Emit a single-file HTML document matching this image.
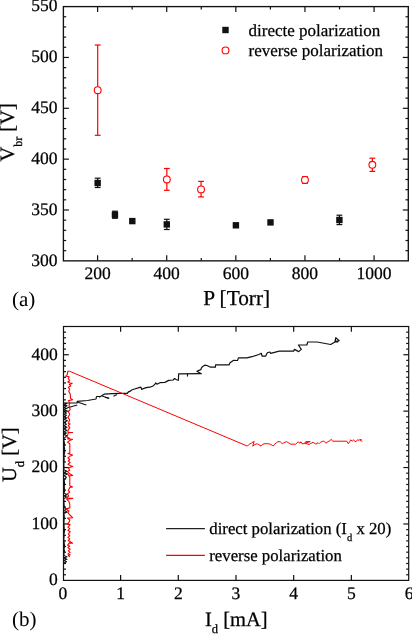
<!DOCTYPE html>
<html><head><meta charset="utf-8"><style>
html,body{margin:0;padding:0;background:#fff;}
svg{display:block;}
text{font-family:"Liberation Serif", serif;fill:#000;stroke:#000;stroke-width:0.25px;text-rendering:geometricPrecision;}
svg{will-change:transform;}
</style></head><body>
<svg width="412" height="634" viewBox="0 0 412 634">
<rect width="412" height="634" fill="#fff"/>
<line x1="97.60" y1="260.85" x2="97.60" y2="255.35" stroke="#111" stroke-width="1.2"/>
<line x1="97.60" y1="6.60" x2="97.60" y2="12.10" stroke="#111" stroke-width="1.2"/>
<line x1="132.16" y1="260.85" x2="132.16" y2="258.05" stroke="#111" stroke-width="1.2"/>
<line x1="132.16" y1="6.60" x2="132.16" y2="9.40" stroke="#111" stroke-width="1.2"/>
<line x1="166.72" y1="260.85" x2="166.72" y2="255.35" stroke="#111" stroke-width="1.2"/>
<line x1="166.72" y1="6.60" x2="166.72" y2="12.10" stroke="#111" stroke-width="1.2"/>
<line x1="201.28" y1="260.85" x2="201.28" y2="258.05" stroke="#111" stroke-width="1.2"/>
<line x1="201.28" y1="6.60" x2="201.28" y2="9.40" stroke="#111" stroke-width="1.2"/>
<line x1="235.84" y1="260.85" x2="235.84" y2="255.35" stroke="#111" stroke-width="1.2"/>
<line x1="235.84" y1="6.60" x2="235.84" y2="12.10" stroke="#111" stroke-width="1.2"/>
<line x1="270.40" y1="260.85" x2="270.40" y2="258.05" stroke="#111" stroke-width="1.2"/>
<line x1="270.40" y1="6.60" x2="270.40" y2="9.40" stroke="#111" stroke-width="1.2"/>
<line x1="304.96" y1="260.85" x2="304.96" y2="255.35" stroke="#111" stroke-width="1.2"/>
<line x1="304.96" y1="6.60" x2="304.96" y2="12.10" stroke="#111" stroke-width="1.2"/>
<line x1="339.52" y1="260.85" x2="339.52" y2="258.05" stroke="#111" stroke-width="1.2"/>
<line x1="339.52" y1="6.60" x2="339.52" y2="9.40" stroke="#111" stroke-width="1.2"/>
<line x1="374.08" y1="260.85" x2="374.08" y2="255.35" stroke="#111" stroke-width="1.2"/>
<line x1="374.08" y1="6.60" x2="374.08" y2="12.10" stroke="#111" stroke-width="1.2"/>
<line x1="63.40" y1="250.68" x2="66.20" y2="250.68" stroke="#111" stroke-width="1.2"/>
<line x1="408.30" y1="250.68" x2="405.50" y2="250.68" stroke="#111" stroke-width="1.2"/>
<line x1="63.40" y1="240.51" x2="66.20" y2="240.51" stroke="#111" stroke-width="1.2"/>
<line x1="408.30" y1="240.51" x2="405.50" y2="240.51" stroke="#111" stroke-width="1.2"/>
<line x1="63.40" y1="230.34" x2="66.20" y2="230.34" stroke="#111" stroke-width="1.2"/>
<line x1="408.30" y1="230.34" x2="405.50" y2="230.34" stroke="#111" stroke-width="1.2"/>
<line x1="63.40" y1="220.17" x2="66.20" y2="220.17" stroke="#111" stroke-width="1.2"/>
<line x1="408.30" y1="220.17" x2="405.50" y2="220.17" stroke="#111" stroke-width="1.2"/>
<line x1="63.40" y1="210.00" x2="68.90" y2="210.00" stroke="#111" stroke-width="1.2"/>
<line x1="408.30" y1="210.00" x2="402.80" y2="210.00" stroke="#111" stroke-width="1.2"/>
<line x1="63.40" y1="199.83" x2="66.20" y2="199.83" stroke="#111" stroke-width="1.2"/>
<line x1="408.30" y1="199.83" x2="405.50" y2="199.83" stroke="#111" stroke-width="1.2"/>
<line x1="63.40" y1="189.66" x2="66.20" y2="189.66" stroke="#111" stroke-width="1.2"/>
<line x1="408.30" y1="189.66" x2="405.50" y2="189.66" stroke="#111" stroke-width="1.2"/>
<line x1="63.40" y1="179.49" x2="66.20" y2="179.49" stroke="#111" stroke-width="1.2"/>
<line x1="408.30" y1="179.49" x2="405.50" y2="179.49" stroke="#111" stroke-width="1.2"/>
<line x1="63.40" y1="169.32" x2="66.20" y2="169.32" stroke="#111" stroke-width="1.2"/>
<line x1="408.30" y1="169.32" x2="405.50" y2="169.32" stroke="#111" stroke-width="1.2"/>
<line x1="63.40" y1="159.15" x2="68.90" y2="159.15" stroke="#111" stroke-width="1.2"/>
<line x1="408.30" y1="159.15" x2="402.80" y2="159.15" stroke="#111" stroke-width="1.2"/>
<line x1="63.40" y1="148.98" x2="66.20" y2="148.98" stroke="#111" stroke-width="1.2"/>
<line x1="408.30" y1="148.98" x2="405.50" y2="148.98" stroke="#111" stroke-width="1.2"/>
<line x1="63.40" y1="138.81" x2="66.20" y2="138.81" stroke="#111" stroke-width="1.2"/>
<line x1="408.30" y1="138.81" x2="405.50" y2="138.81" stroke="#111" stroke-width="1.2"/>
<line x1="63.40" y1="128.64" x2="66.20" y2="128.64" stroke="#111" stroke-width="1.2"/>
<line x1="408.30" y1="128.64" x2="405.50" y2="128.64" stroke="#111" stroke-width="1.2"/>
<line x1="63.40" y1="118.47" x2="66.20" y2="118.47" stroke="#111" stroke-width="1.2"/>
<line x1="408.30" y1="118.47" x2="405.50" y2="118.47" stroke="#111" stroke-width="1.2"/>
<line x1="63.40" y1="108.30" x2="68.90" y2="108.30" stroke="#111" stroke-width="1.2"/>
<line x1="408.30" y1="108.30" x2="402.80" y2="108.30" stroke="#111" stroke-width="1.2"/>
<line x1="63.40" y1="98.13" x2="66.20" y2="98.13" stroke="#111" stroke-width="1.2"/>
<line x1="408.30" y1="98.13" x2="405.50" y2="98.13" stroke="#111" stroke-width="1.2"/>
<line x1="63.40" y1="87.96" x2="66.20" y2="87.96" stroke="#111" stroke-width="1.2"/>
<line x1="408.30" y1="87.96" x2="405.50" y2="87.96" stroke="#111" stroke-width="1.2"/>
<line x1="63.40" y1="77.79" x2="66.20" y2="77.79" stroke="#111" stroke-width="1.2"/>
<line x1="408.30" y1="77.79" x2="405.50" y2="77.79" stroke="#111" stroke-width="1.2"/>
<line x1="63.40" y1="67.62" x2="66.20" y2="67.62" stroke="#111" stroke-width="1.2"/>
<line x1="408.30" y1="67.62" x2="405.50" y2="67.62" stroke="#111" stroke-width="1.2"/>
<line x1="63.40" y1="57.45" x2="68.90" y2="57.45" stroke="#111" stroke-width="1.2"/>
<line x1="408.30" y1="57.45" x2="402.80" y2="57.45" stroke="#111" stroke-width="1.2"/>
<line x1="63.40" y1="47.28" x2="66.20" y2="47.28" stroke="#111" stroke-width="1.2"/>
<line x1="408.30" y1="47.28" x2="405.50" y2="47.28" stroke="#111" stroke-width="1.2"/>
<line x1="63.40" y1="37.11" x2="66.20" y2="37.11" stroke="#111" stroke-width="1.2"/>
<line x1="408.30" y1="37.11" x2="405.50" y2="37.11" stroke="#111" stroke-width="1.2"/>
<line x1="63.40" y1="26.94" x2="66.20" y2="26.94" stroke="#111" stroke-width="1.2"/>
<line x1="408.30" y1="26.94" x2="405.50" y2="26.94" stroke="#111" stroke-width="1.2"/>
<line x1="63.40" y1="16.77" x2="66.20" y2="16.77" stroke="#111" stroke-width="1.2"/>
<line x1="408.30" y1="16.77" x2="405.50" y2="16.77" stroke="#111" stroke-width="1.2"/>
<rect x="63.40" y="6.60" width="344.90" height="254.25" fill="none" stroke="#111" stroke-width="1.35"/>
<text transform="translate(57.4,265.55)" text-anchor="end" font-size="17.5">300</text>
<text transform="translate(57.4,214.70)" text-anchor="end" font-size="17.5">350</text>
<text transform="translate(57.4,163.85)" text-anchor="end" font-size="17.5">400</text>
<text transform="translate(57.4,113.00)" text-anchor="end" font-size="17.5">450</text>
<text transform="translate(57.4,62.15)" text-anchor="end" font-size="17.5">500</text>
<text transform="translate(57.4,11.30)" text-anchor="end" font-size="17.5">550</text>
<text x="97.60" y="279.4" text-anchor="middle" font-size="17.5">200</text>
<text x="166.72" y="279.4" text-anchor="middle" font-size="17.5">400</text>
<text x="235.84" y="279.4" text-anchor="middle" font-size="17.5">600</text>
<text x="304.96" y="279.4" text-anchor="middle" font-size="17.5">800</text>
<text x="374.08" y="279.4" text-anchor="middle" font-size="17.5">1000</text>
<text x="236.7" y="305" text-anchor="middle" font-size="21.3">P [Torr]</text>
<g transform="translate(13.6,132.4) rotate(-90)"><text x="0" y="0" text-anchor="middle" font-size="20.5">V<tspan font-size="12" dy="8.5">br</tspan><tspan dy="-8.5"> [V]</tspan></text></g>
<text x="12" y="306.4" font-size="21" style="stroke-width:0">(a)</text>
<line x1="97.65" y1="178.20" x2="97.65" y2="187.50" stroke="#111" stroke-width="1.2"/>
<line x1="94.75" y1="178.20" x2="100.55" y2="178.20" stroke="#111" stroke-width="1.2"/>
<line x1="94.75" y1="187.50" x2="100.55" y2="187.50" stroke="#111" stroke-width="1.2"/>
<rect x="94.45" y="179.80" width="6.4" height="6.4" fill="#111"/>
<line x1="114.95" y1="211.20" x2="114.95" y2="218.30" stroke="#111" stroke-width="1.2"/>
<line x1="112.05" y1="211.20" x2="117.85" y2="211.20" stroke="#111" stroke-width="1.2"/>
<line x1="112.05" y1="218.30" x2="117.85" y2="218.30" stroke="#111" stroke-width="1.2"/>
<rect x="111.75" y="211.55" width="6.4" height="6.4" fill="#111"/>
<rect x="129.10" y="217.90" width="6.4" height="6.4" fill="#111"/>
<line x1="166.80" y1="219.30" x2="166.80" y2="229.50" stroke="#111" stroke-width="1.2"/>
<line x1="163.90" y1="219.30" x2="169.70" y2="219.30" stroke="#111" stroke-width="1.2"/>
<line x1="163.90" y1="229.50" x2="169.70" y2="229.50" stroke="#111" stroke-width="1.2"/>
<rect x="163.60" y="221.20" width="6.4" height="6.4" fill="#111"/>
<rect x="232.70" y="222.10" width="6.4" height="6.4" fill="#111"/>
<rect x="267.30" y="219.20" width="6.4" height="6.4" fill="#111"/>
<line x1="339.40" y1="215.20" x2="339.40" y2="224.60" stroke="#111" stroke-width="1.2"/>
<line x1="336.50" y1="215.20" x2="342.30" y2="215.20" stroke="#111" stroke-width="1.2"/>
<line x1="336.50" y1="224.60" x2="342.30" y2="224.60" stroke="#111" stroke-width="1.2"/>
<rect x="336.20" y="216.80" width="6.4" height="6.4" fill="#111"/>
<line x1="97.70" y1="45.00" x2="97.70" y2="135.30" stroke="#ff0000" stroke-width="1.2"/>
<line x1="94.80" y1="45.00" x2="100.60" y2="45.00" stroke="#ff0000" stroke-width="1.2"/>
<line x1="94.80" y1="135.30" x2="100.60" y2="135.30" stroke="#ff0000" stroke-width="1.2"/>
<circle cx="97.70" cy="90.20" r="3.4" fill="#fff" stroke="#ff0000" stroke-width="1.1"/>
<line x1="166.85" y1="168.50" x2="166.85" y2="190.30" stroke="#ff0000" stroke-width="1.2"/>
<line x1="163.95" y1="168.50" x2="169.75" y2="168.50" stroke="#ff0000" stroke-width="1.2"/>
<line x1="163.95" y1="190.30" x2="169.75" y2="190.30" stroke="#ff0000" stroke-width="1.2"/>
<circle cx="166.85" cy="179.45" r="3.4" fill="#fff" stroke="#ff0000" stroke-width="1.1"/>
<line x1="201.05" y1="181.40" x2="201.05" y2="196.90" stroke="#ff0000" stroke-width="1.2"/>
<line x1="198.15" y1="181.40" x2="203.95" y2="181.40" stroke="#ff0000" stroke-width="1.2"/>
<line x1="198.15" y1="196.90" x2="203.95" y2="196.90" stroke="#ff0000" stroke-width="1.2"/>
<circle cx="201.05" cy="189.40" r="3.4" fill="#fff" stroke="#ff0000" stroke-width="1.1"/>
<line x1="304.95" y1="176.70" x2="304.95" y2="183.30" stroke="#ff0000" stroke-width="1.2"/>
<line x1="302.05" y1="176.70" x2="307.85" y2="176.70" stroke="#ff0000" stroke-width="1.2"/>
<line x1="302.05" y1="183.30" x2="307.85" y2="183.30" stroke="#ff0000" stroke-width="1.2"/>
<circle cx="304.95" cy="179.95" r="3.4" fill="#fff" stroke="#ff0000" stroke-width="1.1"/>
<line x1="372.35" y1="158.20" x2="372.35" y2="171.40" stroke="#ff0000" stroke-width="1.2"/>
<line x1="369.45" y1="158.20" x2="375.25" y2="158.20" stroke="#ff0000" stroke-width="1.2"/>
<line x1="369.45" y1="171.40" x2="375.25" y2="171.40" stroke="#ff0000" stroke-width="1.2"/>
<circle cx="372.35" cy="164.80" r="3.4" fill="#fff" stroke="#ff0000" stroke-width="1.1"/>
<rect x="222.30" y="26.80" width="6.4" height="6.4" fill="#111"/>
<circle cx="225.50" cy="50.40" r="3.4" fill="#fff" stroke="#ff0000" stroke-width="1.1"/>
<text x="248.5" y="35.6" font-size="17">directe polarization</text>
<text x="248.5" y="55.8" font-size="17">reverse polarization</text>
<line x1="120.60" y1="580.40" x2="120.60" y2="575.10" stroke="#111" stroke-width="1.2"/>
<line x1="120.60" y1="326.50" x2="120.60" y2="331.80" stroke="#111" stroke-width="1.2"/>
<line x1="178.29" y1="580.40" x2="178.29" y2="575.10" stroke="#111" stroke-width="1.2"/>
<line x1="178.29" y1="326.50" x2="178.29" y2="331.80" stroke="#111" stroke-width="1.2"/>
<line x1="235.98" y1="580.40" x2="235.98" y2="575.10" stroke="#111" stroke-width="1.2"/>
<line x1="235.98" y1="326.50" x2="235.98" y2="331.80" stroke="#111" stroke-width="1.2"/>
<line x1="293.67" y1="580.40" x2="293.67" y2="575.10" stroke="#111" stroke-width="1.2"/>
<line x1="293.67" y1="326.50" x2="293.67" y2="331.80" stroke="#111" stroke-width="1.2"/>
<line x1="351.36" y1="580.40" x2="351.36" y2="575.10" stroke="#111" stroke-width="1.2"/>
<line x1="351.36" y1="326.50" x2="351.36" y2="331.80" stroke="#111" stroke-width="1.2"/>
<line x1="63.50" y1="574.76" x2="66.00" y2="574.76" stroke="#111" stroke-width="1.2"/>
<line x1="408.70" y1="574.76" x2="406.20" y2="574.76" stroke="#111" stroke-width="1.2"/>
<line x1="63.50" y1="569.12" x2="66.00" y2="569.12" stroke="#111" stroke-width="1.2"/>
<line x1="408.70" y1="569.12" x2="406.20" y2="569.12" stroke="#111" stroke-width="1.2"/>
<line x1="63.50" y1="563.47" x2="66.00" y2="563.47" stroke="#111" stroke-width="1.2"/>
<line x1="408.70" y1="563.47" x2="406.20" y2="563.47" stroke="#111" stroke-width="1.2"/>
<line x1="63.50" y1="557.83" x2="66.00" y2="557.83" stroke="#111" stroke-width="1.2"/>
<line x1="408.70" y1="557.83" x2="406.20" y2="557.83" stroke="#111" stroke-width="1.2"/>
<line x1="63.50" y1="552.19" x2="66.00" y2="552.19" stroke="#111" stroke-width="1.2"/>
<line x1="408.70" y1="552.19" x2="406.20" y2="552.19" stroke="#111" stroke-width="1.2"/>
<line x1="63.50" y1="546.55" x2="66.00" y2="546.55" stroke="#111" stroke-width="1.2"/>
<line x1="408.70" y1="546.55" x2="406.20" y2="546.55" stroke="#111" stroke-width="1.2"/>
<line x1="63.50" y1="540.91" x2="66.00" y2="540.91" stroke="#111" stroke-width="1.2"/>
<line x1="408.70" y1="540.91" x2="406.20" y2="540.91" stroke="#111" stroke-width="1.2"/>
<line x1="63.50" y1="535.26" x2="66.00" y2="535.26" stroke="#111" stroke-width="1.2"/>
<line x1="408.70" y1="535.26" x2="406.20" y2="535.26" stroke="#111" stroke-width="1.2"/>
<line x1="63.50" y1="529.62" x2="66.00" y2="529.62" stroke="#111" stroke-width="1.2"/>
<line x1="408.70" y1="529.62" x2="406.20" y2="529.62" stroke="#111" stroke-width="1.2"/>
<line x1="63.50" y1="523.98" x2="68.80" y2="523.98" stroke="#111" stroke-width="1.2"/>
<line x1="408.70" y1="523.98" x2="403.40" y2="523.98" stroke="#111" stroke-width="1.2"/>
<line x1="63.50" y1="518.34" x2="66.00" y2="518.34" stroke="#111" stroke-width="1.2"/>
<line x1="408.70" y1="518.34" x2="406.20" y2="518.34" stroke="#111" stroke-width="1.2"/>
<line x1="63.50" y1="512.70" x2="66.00" y2="512.70" stroke="#111" stroke-width="1.2"/>
<line x1="408.70" y1="512.70" x2="406.20" y2="512.70" stroke="#111" stroke-width="1.2"/>
<line x1="63.50" y1="507.05" x2="66.00" y2="507.05" stroke="#111" stroke-width="1.2"/>
<line x1="408.70" y1="507.05" x2="406.20" y2="507.05" stroke="#111" stroke-width="1.2"/>
<line x1="63.50" y1="501.41" x2="66.00" y2="501.41" stroke="#111" stroke-width="1.2"/>
<line x1="408.70" y1="501.41" x2="406.20" y2="501.41" stroke="#111" stroke-width="1.2"/>
<line x1="63.50" y1="495.77" x2="66.00" y2="495.77" stroke="#111" stroke-width="1.2"/>
<line x1="408.70" y1="495.77" x2="406.20" y2="495.77" stroke="#111" stroke-width="1.2"/>
<line x1="63.50" y1="490.13" x2="66.00" y2="490.13" stroke="#111" stroke-width="1.2"/>
<line x1="408.70" y1="490.13" x2="406.20" y2="490.13" stroke="#111" stroke-width="1.2"/>
<line x1="63.50" y1="484.49" x2="66.00" y2="484.49" stroke="#111" stroke-width="1.2"/>
<line x1="408.70" y1="484.49" x2="406.20" y2="484.49" stroke="#111" stroke-width="1.2"/>
<line x1="63.50" y1="478.84" x2="66.00" y2="478.84" stroke="#111" stroke-width="1.2"/>
<line x1="408.70" y1="478.84" x2="406.20" y2="478.84" stroke="#111" stroke-width="1.2"/>
<line x1="63.50" y1="473.20" x2="66.00" y2="473.20" stroke="#111" stroke-width="1.2"/>
<line x1="408.70" y1="473.20" x2="406.20" y2="473.20" stroke="#111" stroke-width="1.2"/>
<line x1="63.50" y1="467.56" x2="68.80" y2="467.56" stroke="#111" stroke-width="1.2"/>
<line x1="408.70" y1="467.56" x2="403.40" y2="467.56" stroke="#111" stroke-width="1.2"/>
<line x1="63.50" y1="461.92" x2="66.00" y2="461.92" stroke="#111" stroke-width="1.2"/>
<line x1="408.70" y1="461.92" x2="406.20" y2="461.92" stroke="#111" stroke-width="1.2"/>
<line x1="63.50" y1="456.28" x2="66.00" y2="456.28" stroke="#111" stroke-width="1.2"/>
<line x1="408.70" y1="456.28" x2="406.20" y2="456.28" stroke="#111" stroke-width="1.2"/>
<line x1="63.50" y1="450.63" x2="66.00" y2="450.63" stroke="#111" stroke-width="1.2"/>
<line x1="408.70" y1="450.63" x2="406.20" y2="450.63" stroke="#111" stroke-width="1.2"/>
<line x1="63.50" y1="444.99" x2="66.00" y2="444.99" stroke="#111" stroke-width="1.2"/>
<line x1="408.70" y1="444.99" x2="406.20" y2="444.99" stroke="#111" stroke-width="1.2"/>
<line x1="63.50" y1="439.35" x2="66.00" y2="439.35" stroke="#111" stroke-width="1.2"/>
<line x1="408.70" y1="439.35" x2="406.20" y2="439.35" stroke="#111" stroke-width="1.2"/>
<line x1="63.50" y1="433.71" x2="66.00" y2="433.71" stroke="#111" stroke-width="1.2"/>
<line x1="408.70" y1="433.71" x2="406.20" y2="433.71" stroke="#111" stroke-width="1.2"/>
<line x1="63.50" y1="428.07" x2="66.00" y2="428.07" stroke="#111" stroke-width="1.2"/>
<line x1="408.70" y1="428.07" x2="406.20" y2="428.07" stroke="#111" stroke-width="1.2"/>
<line x1="63.50" y1="422.42" x2="66.00" y2="422.42" stroke="#111" stroke-width="1.2"/>
<line x1="408.70" y1="422.42" x2="406.20" y2="422.42" stroke="#111" stroke-width="1.2"/>
<line x1="63.50" y1="416.78" x2="66.00" y2="416.78" stroke="#111" stroke-width="1.2"/>
<line x1="408.70" y1="416.78" x2="406.20" y2="416.78" stroke="#111" stroke-width="1.2"/>
<line x1="63.50" y1="411.14" x2="68.80" y2="411.14" stroke="#111" stroke-width="1.2"/>
<line x1="408.70" y1="411.14" x2="403.40" y2="411.14" stroke="#111" stroke-width="1.2"/>
<line x1="63.50" y1="405.50" x2="66.00" y2="405.50" stroke="#111" stroke-width="1.2"/>
<line x1="408.70" y1="405.50" x2="406.20" y2="405.50" stroke="#111" stroke-width="1.2"/>
<line x1="63.50" y1="399.86" x2="66.00" y2="399.86" stroke="#111" stroke-width="1.2"/>
<line x1="408.70" y1="399.86" x2="406.20" y2="399.86" stroke="#111" stroke-width="1.2"/>
<line x1="63.50" y1="394.21" x2="66.00" y2="394.21" stroke="#111" stroke-width="1.2"/>
<line x1="408.70" y1="394.21" x2="406.20" y2="394.21" stroke="#111" stroke-width="1.2"/>
<line x1="63.50" y1="388.57" x2="66.00" y2="388.57" stroke="#111" stroke-width="1.2"/>
<line x1="408.70" y1="388.57" x2="406.20" y2="388.57" stroke="#111" stroke-width="1.2"/>
<line x1="63.50" y1="382.93" x2="66.00" y2="382.93" stroke="#111" stroke-width="1.2"/>
<line x1="408.70" y1="382.93" x2="406.20" y2="382.93" stroke="#111" stroke-width="1.2"/>
<line x1="63.50" y1="377.29" x2="66.00" y2="377.29" stroke="#111" stroke-width="1.2"/>
<line x1="408.70" y1="377.29" x2="406.20" y2="377.29" stroke="#111" stroke-width="1.2"/>
<line x1="63.50" y1="371.65" x2="66.00" y2="371.65" stroke="#111" stroke-width="1.2"/>
<line x1="408.70" y1="371.65" x2="406.20" y2="371.65" stroke="#111" stroke-width="1.2"/>
<line x1="63.50" y1="366.00" x2="66.00" y2="366.00" stroke="#111" stroke-width="1.2"/>
<line x1="408.70" y1="366.00" x2="406.20" y2="366.00" stroke="#111" stroke-width="1.2"/>
<line x1="63.50" y1="360.36" x2="66.00" y2="360.36" stroke="#111" stroke-width="1.2"/>
<line x1="408.70" y1="360.36" x2="406.20" y2="360.36" stroke="#111" stroke-width="1.2"/>
<line x1="63.50" y1="354.72" x2="68.80" y2="354.72" stroke="#111" stroke-width="1.2"/>
<line x1="408.70" y1="354.72" x2="403.40" y2="354.72" stroke="#111" stroke-width="1.2"/>
<line x1="63.50" y1="349.08" x2="66.00" y2="349.08" stroke="#111" stroke-width="1.2"/>
<line x1="408.70" y1="349.08" x2="406.20" y2="349.08" stroke="#111" stroke-width="1.2"/>
<line x1="63.50" y1="343.44" x2="66.00" y2="343.44" stroke="#111" stroke-width="1.2"/>
<line x1="408.70" y1="343.44" x2="406.20" y2="343.44" stroke="#111" stroke-width="1.2"/>
<line x1="63.50" y1="337.79" x2="66.00" y2="337.79" stroke="#111" stroke-width="1.2"/>
<line x1="408.70" y1="337.79" x2="406.20" y2="337.79" stroke="#111" stroke-width="1.2"/>
<line x1="63.50" y1="332.15" x2="66.00" y2="332.15" stroke="#111" stroke-width="1.2"/>
<line x1="408.70" y1="332.15" x2="406.20" y2="332.15" stroke="#111" stroke-width="1.2"/>
<rect x="63.50" y="326.50" width="345.20" height="253.90" fill="none" stroke="#111" stroke-width="1.2"/>
<text transform="translate(57.8,585.30)" text-anchor="end" font-size="17.5">0</text>
<text transform="translate(57.8,528.88)" text-anchor="end" font-size="17.5">100</text>
<text transform="translate(57.8,472.46)" text-anchor="end" font-size="17.5">200</text>
<text transform="translate(57.8,416.04)" text-anchor="end" font-size="17.5">300</text>
<text transform="translate(57.8,359.62)" text-anchor="end" font-size="17.5">400</text>
<text x="62.91" y="599.1" text-anchor="middle" font-size="17.5">0</text>
<text x="120.60" y="599.1" text-anchor="middle" font-size="17.5">1</text>
<text x="178.29" y="599.1" text-anchor="middle" font-size="17.5">2</text>
<text x="235.98" y="599.1" text-anchor="middle" font-size="17.5">3</text>
<text x="293.67" y="599.1" text-anchor="middle" font-size="17.5">4</text>
<text x="351.36" y="599.1" text-anchor="middle" font-size="17.5">5</text>
<text x="409.05" y="599.1" text-anchor="middle" font-size="17.5">6</text>
<text x="205" y="625.5" font-size="20.5">I<tspan font-size="12.5" dy="7.5">d</tspan><tspan dy="-7.5"> [mA]</tspan></text>
<g transform="translate(15.8,454.7) rotate(-90)"><text x="0" y="0" text-anchor="middle" font-size="20.5">U<tspan font-size="12.5" dy="8">d</tspan><tspan dy="-8"> [V]</tspan></text></g>
<text x="12" y="625.6" font-size="21" style="stroke-width:0">(b)</text>
<line x1="166.10" y1="528.60" x2="204.90" y2="528.60" stroke="#222" stroke-width="1.1"/>
<line x1="166.10" y1="555.40" x2="204.90" y2="555.40" stroke="#ff0000" stroke-width="1.1"/>
<text x="209.3" y="533.9" font-size="16.75">direct polarization (I<tspan font-size="10.5" dy="7">d</tspan><tspan dy="-7"> x 20)</tspan></text>
<text x="209.3" y="561.2" font-size="16.75">reverse polarization</text>
<polyline points="63.8,563.0 66.5,561.7 63.8,560.2 67.0,559.2 63.8,557.9 67.0,556.8 64.2,555.8 63.9,553.7 64.5,551.1 64.0,548.9 64.7,545.9 64.2,543.1 63.8,539.6 64.1,536.3 63.9,534.1 64.5,531.6 64.3,529.4 64.1,526.4 63.9,523.6 64.0,521.5 64.2,518.5 64.3,516.0 63.8,513.3 67.3,512.1 63.8,510.5 67.0,509.3 64.6,507.9 64.1,504.8 63.9,501.3 63.8,498.7 66.5,497.1 63.8,495.7 67.2,494.7 63.8,493.1 64.6,491.6 64.4,489.1 64.3,486.2 64.6,483.6 64.2,480.1 66.4,477.2 63.8,475.6 67.6,474.1 63.8,472.4 66.8,471.2 63.8,469.7 64.0,467.0 63.9,464.8 63.9,461.6 64.2,459.3 63.8,456.0 64.2,454.9 64.6,452.1 64.6,448.8 64.2,446.4 64.6,443.9 63.9,440.4 64.0,438.2 66.9,435.8 63.8,434.4 66.3,433.1 63.8,431.8 67.0,430.5 63.8,428.8 67.0,427.2 63.8,425.7 66.4,424.2 63.8,422.4 67.4,420.8 63.8,419.2 66.8,417.9 63.8,416.8 66.4,415.3 63.8,414.2 66.5,413.1 63.8,411.8 66.3,410.7 63.8,409.6 66.8,408.5 63.8,407.5 67.1,405.8 63.8,404.7 66.8,403.5 64.5,403.0" fill="none" stroke="#111" stroke-width="1.1" stroke-linejoin="round"/>
<polyline points="63.8,403.0 77.2,403.0 77.2,401.4 87.5,400.5 96.0,399.0 96.5,396.5 99.6,396.5 99.6,397.1 104.5,394.1 112.0,393.7 120.0,393.4 127.3,393.4 128.7,391.5 130.7,391.0 127.8,392.4 129.7,391.5 131.7,390.0 134.6,389.0 139.9,387.4 140.9,387.1 141.8,389.5 143.3,388.6 146.2,387.6 151.1,386.8 153.5,385.7 155.4,383.7 155.7,382.9 156.9,384.2 160.0,382.7 164.9,382.4 168.7,380.4 173.1,380.0 174.6,378.5 176.5,379.7 178.4,380.3 178.6,373.8 201.3,373.7 196.9,371.3 200.8,369.6 201.8,367.2 204.7,365.2 207.1,365.5 210.5,367.2 215.4,367.2 215.6,364.9 229.0,364.9 230.0,362.8 233.3,360.4 237.5,360.5 238.4,357.9 246.9,357.9 252.0,356.7 258.8,354.5 261.3,353.3 262.2,356.2 265.6,356.2 267.3,352.8 269.8,352.0 270.7,353.3 279.2,351.1 293.6,351.1 294.5,349.4 298.7,351.6 301.3,349.4 298.4,345.0 306.9,345.0 307.7,342.0 317.1,342.0 330.7,344.5 334.9,342.0 335.8,337.7 339.2,340.6 334.9,341.6 338.3,342.0" fill="none" stroke="#111" stroke-width="1.2" stroke-linejoin="round"/>
<polyline points="77.2,402.0 86.3,405.0" fill="none" stroke="#111" stroke-width="1.2" stroke-linejoin="round"/>
<polyline points="102.0,396.0 108.7,398.3" fill="none" stroke="#111" stroke-width="1.2" stroke-linejoin="round"/>
<polyline points="66.9,408.0 77.2,405.0" fill="none" stroke="#111" stroke-width="1.2" stroke-linejoin="round"/>
<polyline points="105.0,397.2 109.2,398.4" fill="none" stroke="#111" stroke-width="1.1" stroke-linejoin="round"/>
<polyline points="187.5,373.8 187.5,376.6" fill="none" stroke="#111" stroke-width="1.1" stroke-linejoin="round"/>
<polyline points="113.5,396.3 116.9,394.6" fill="none" stroke="#111" stroke-width="1.1" stroke-linejoin="round"/>
<polyline points="69.7,371.3 67.8,371.3 67.3,374.7 65.8,376.2 69.2,376.7 68.3,378.6 69.7,380.5 67.8,382.0 70.2,383.0 72.1,383.4 69.2,384.4 70.7,385.9 68.3,387.3 69.7,389.3 68.7,391.2 70.2,394.1 70.6,398.4 72.6,399.6 68.3,400.8 69.8,403.1 69.0,405.5 70.2,409.5 68.3,411.8 69.8,414.2 67.9,417.4 69.8,420.0 68.3,423.2 70.2,423.9 68.3,425.5 69.8,427.9 68.3,429.5 67.9,432.2 72.6,432.5 68.3,432.6 67.5,435.8 66.7,437.0 69.8,438.2 67.5,438.9 72.6,439.3 69.8,440.5 67.5,442.1 69.8,443.7 69.8,453.1 67.9,453.5 72.6,455.1 69.8,456.3 67.9,457.9 69.8,459.5 68.3,461.0 70.2,462.6 67.9,464.2 70.6,465.8 72.6,466.6 68.3,468.1 69.8,470.0 67.5,471.6 69.0,473.2 72.6,475.5 69.0,475.9 68.3,474.7 69.8,477.1 69.8,485.8 72.6,487.0 69.8,487.4 68.3,490.5 69.8,492.1 67.5,493.7 68.7,496.0 66.3,498.0 72.6,498.4 66.7,499.2 69.0,501.6 69.8,504.7 69.8,507.9 65.5,509.1 69.0,511.0 67.9,512.6 69.8,515.0 72.6,517.7 67.5,518.1 69.8,520.0 69.0,522.4 67.5,523.9 70.2,524.7 67.9,527.1 69.8,528.7 67.9,530.3 70.2,531.8 68.3,533.8 69.8,535.8 67.9,537.4 69.8,538.9 68.3,540.5 72.6,543.3 69.4,542.9 67.5,545.3 69.8,546.0 67.9,547.6 70.2,549.2 68.3,550.8 70.2,552.4 67.9,553.9 70.2,554.7 68.3,555.5 69.8,556.7" fill="none" stroke="#ff0000" stroke-width="1.1" stroke-linejoin="round"/>
<polyline points="69.7,371.3 247.4,446.1 249.3,444.2 251.3,443.2 253.2,441.8 254.2,441.3 252.7,446.1 254.7,444.7 257.1,443.7 259.0,444.7 261.0,446.1 262.9,444.2 264.9,443.7 267.8,443.7 270.2,444.2 272.6,445.5 273.1,446.1 274.1,444.7 276.5,442.7 278.0,441.6 280.4,441.8 282.3,443.7 284.0,442.7 286.4,441.6 288.4,442.7 290.8,444.2 295.7,444.2 298.1,441.8 300.0,443.2 301.0,441.8 302.0,443.7 304.4,443.7 305.8,441.6 310.2,441.6 304.9,443.2 309.2,444.5 310.2,443.7 313.1,442.3 316.0,444.2 318.0,442.7 319.0,443.7 320.4,442.3 322.8,441.3 324.0,441.2 325.9,443.2 327.9,441.7 329.8,440.7 331.3,439.3 332.3,440.7 332.7,441.2 346.8,441.2 348.3,443.7 349.7,441.7 350.7,439.8 352.2,441.2 353.6,439.8 354.6,441.2 356.0,441.7 357.5,439.8 359.0,440.3 359.9,439.6 361.4,439.6 360.4,440.7 362.3,441.2" fill="none" stroke="#ff0000" stroke-width="1.0" stroke-linejoin="round"/>
</svg>
</body></html>
